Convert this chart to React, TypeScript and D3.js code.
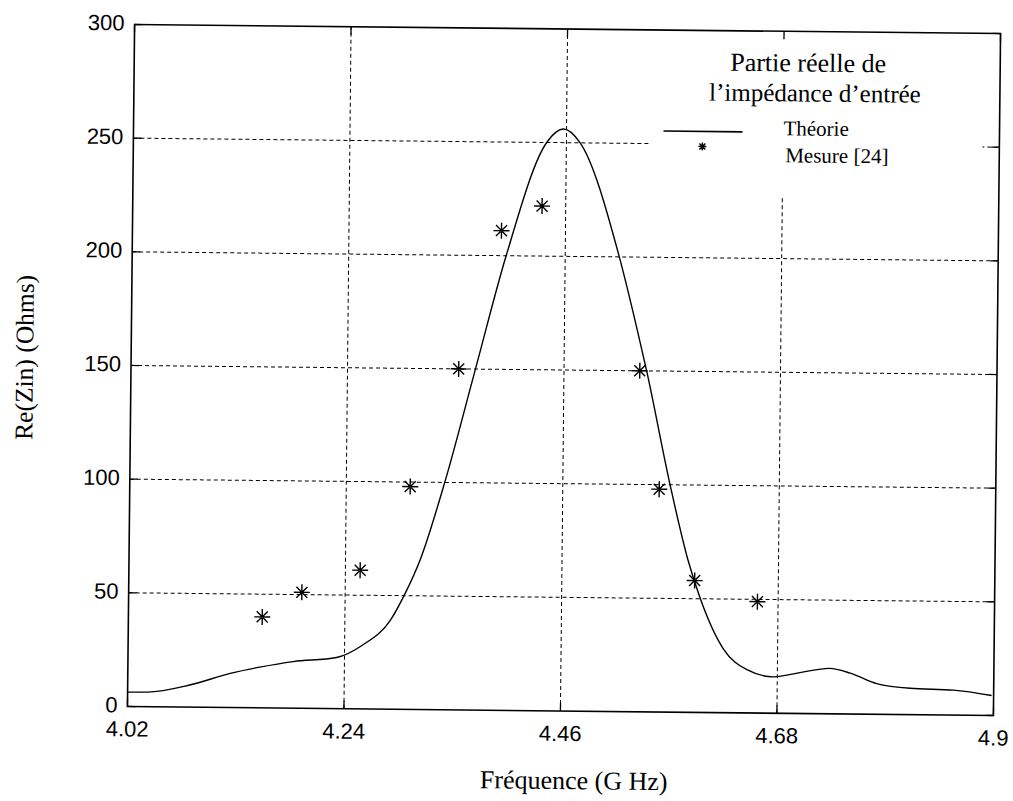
import React from "react";
import * as d3 from "d3";

// ---- data ----
const theoryFreq = [4.02, 4.04, 4.083, 4.124, 4.154, 4.188, 4.232, 4.258, 4.286, 4.301, 4.316, 4.34, 4.37, 4.4, 4.44, 4.457, 4.474, 4.515, 4.534, 4.544, 4.569, 4.588, 4.601, 4.625, 4.649, 4.676, 4.703, 4.733, 4.754, 4.781, 4.815, 4.859, 4.898];
const theoryRe = [6.3, 6.4, 9.7, 15, 17.9, 20.5, 22.5, 28, 39, 51, 66, 100, 150, 200, 250, 256, 250, 200, 168, 150, 100, 67, 50, 28, 19, 16, 18, 20, 18, 13.5, 11.6, 11, 8.8];
const measFreq = [4.156, 4.196, 4.255, 4.305, 4.353, 4.395, 4.436, 4.537, 4.558, 4.595, 4.659];
const measRe = [40, 51, 61, 98, 150, 211, 222, 150, 98, 58, 49];
const xTicks = [4.02, 4.24, 4.46, 4.68, 4.9];
const xTickLabels = ["4.02", "4.24", "4.46", "4.68", "4.9"];
const yTicks = [0, 50, 100, 150, 200, 250, 300];
const legendTitle = ["Partie réelle de", "l\u2019impédance d\u2019entrée"];
const legendLabels = ["Théorie", "Mesure [24]"];
const xLabel = "Fréquence (G Hz)";
const yLabel = "Re(Zin) (Ohms)";

const L = 131, R = 997, T = 29, B = 711;
const SERIF = "'Liberation Serif', 'Times New Roman', serif";
const SANS = "'Liberation Sans', Arial, sans-serif";

function star(cx: number, cy: number, a: number, b: number) {
  return `M${cx - a},${cy}H${cx + a}M${cx},${cy - a}V${cy + a}M${cx - b},${cy - b}L${cx + b},${cy + b}M${cx - b},${cy + b}L${cx + b},${cy - b}`;
}

export default function App() {
  const x = d3.scaleLinear().domain([4.02, 4.9]).range([L, R]);
  const y = d3.scaleLinear().domain([0, 300]).range([B, T]);
  const pts: [number, number][] = theoryFreq.map((f, i) => [x(f), y(theoryRe[i])]);
  const line = d3.line().curve(d3.curveMonotoneX)(pts) || "";
  const legBox = { x0: 648, x1: 980, y1: 195 };

  return (
    <svg width={1013} height={801} style={{ position: "absolute", left: 0, top: 0, background: "#fff" }}>
      <rect width={1013} height={801} fill="#fff" />
      <g transform="rotate(0.6, 564, 370)">
        {/* grid */}
        <g stroke="#000" strokeWidth={1} strokeDasharray="4,3" fill="none">
          {xTicks.slice(1, -1).map((t) => (
            <line key={"gx" + t} x1={x(t)} x2={x(t)} y1={B} y2={T} />
          ))}
          {yTicks.slice(1, -1).map((t) => (
            <line key={"gy" + t} x1={L} x2={R} y1={y(t)} y2={y(t)} />
          ))}
        </g>
        {/* legend background */}
        <rect x={legBox.x0} y={T} width={legBox.x1 - legBox.x0} height={legBox.y1 - T} fill="#fff" />
        {/* ticks */}
        <g stroke="#000" strokeWidth={1.3}>
          {xTicks.map((t) => (
            <g key={"tx" + t}>
              <line x1={x(t)} x2={x(t)} y1={B} y2={B - 8} />
              <line x1={x(t)} x2={x(t)} y1={T} y2={T + 8} />
            </g>
          ))}
          {yTicks.map((t) => (
            <g key={"ty" + t}>
              <line x1={L} x2={L + 8} y1={y(t)} y2={y(t)} />
              <line x1={R} x2={R - 8} y1={y(t)} y2={y(t)} />
            </g>
          ))}
        </g>
        {/* frame */}
        <rect x={L} y={T} width={R - L} height={B - T} fill="none" stroke="#000" strokeWidth={1.6} />
        {/* theory curve */}
        <path d={line} fill="none" stroke="#000" strokeWidth={1.4} />
        {/* measurements */}
        <g stroke="#000" strokeWidth={1.4} fill="none">
          {measFreq.map((f, i) => (
            <path key={"m" + i} d={star(x(f), y(measRe[i]), 8, 5.5)} />
          ))}
        </g>
        {/* tick labels */}
        <g fontFamily={SANS} fontSize={22} fill="#000">
          {xTicks.map((t, i) => (
            <text key={"lx" + t} x={x(t)} y={B + 30} textAnchor="middle">{xTickLabels[i]}</text>
          ))}
          {yTicks.map((t) => (
            <text key={"ly" + t} x={L - 10} y={y(t) + 6} textAnchor="end">{t}</text>
          ))}
        </g>
        {/* axis labels */}
        <text x={578} y={789} fontFamily={SERIF} fontSize={26} textAnchor="middle">{xLabel}</text>
        <text transform={`translate(33, ${(T + B) / 2 - 7}) rotate(-90)`} fontFamily={SERIF} fontSize={25.5} textAnchor="middle">{yLabel}</text>
        {/* legend */}
        <g fontFamily={SERIF} fill="#000">
          <text x={805} y={69} fontSize={26} textAnchor="middle">{legendTitle[0]}</text>
          <text x={812} y={99} fontSize={25} textAnchor="middle">{legendTitle[1]}</text>
          <line x1={661} x2={740} y1={130} y2={130} stroke="#000" strokeWidth={1.6} />
          <text x={781} y={133} fontSize={21}>{legendLabels[0]}</text>
          <path d={star(700, 145, 4, 3)} stroke="#000" strokeWidth={1.4} fill="none" />
          <text x={783} y={160} fontSize={21}>{legendLabels[1]}</text>
        </g>
      </g>
    </svg>
  );
}
